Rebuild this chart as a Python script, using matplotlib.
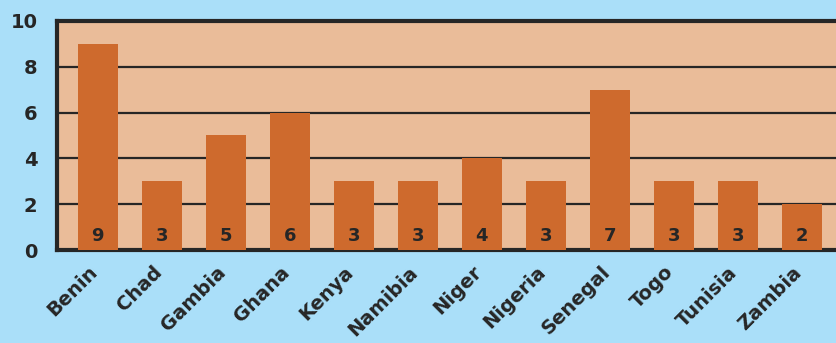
import matplotlib
matplotlib.use("Agg")
import matplotlib.pyplot as plt
from matplotlib.transforms import ScaledTranslation

countries = ["Benin", "Chad", "Gambia", "Ghana", "Kenya", "Namibia", "Niger",
             "Nigeria", "Senegal", "Togo", "Tunisia", "Zambia"]
counts = [9, 3, 5, 6, 3, 3, 4, 3, 7, 3, 3, 2]
y_ticks = [0, 2, 4, 6, 8, 10]

BG = "#aadff9"
PLOT_BG = "#eabc99"
BAR = "#ce6a2d"
DARK = "#262626"

plt.rcParams["font.family"] = ["DejaVu Sans"]

fig = plt.figure(figsize=(8.37, 3.43), dpi=100, facecolor=BG)
ax = fig.add_axes([0.068, 0.271, 0.932, 0.668])
ax.set_facecolor(PLOT_BG)

x = list(range(len(countries)))
ax.bar(x, counts, width=0.625, color=BAR, zorder=3)

for xi, v in zip(x, counts):
    ax.text(xi, 0.62, str(v), ha="center", va="center", fontsize=13,
            fontweight="bold", color=DARK, zorder=4)

ax.set_xlim(-0.64, 11.55)
ax.set_ylim(0, 10)
ax.set_yticks(y_ticks)
ax.set_yticklabels([str(t) for t in y_ticks], fontsize=14, fontweight="bold", color=DARK)
ax.set_xticks(x)
ax.set_xticklabels(countries, rotation=45, ha="right", rotation_mode="anchor",
                   fontsize=14, fontweight="bold", color=DARK)
ax.tick_params(axis="y", length=0, pad=14)
ax.tick_params(axis="x", length=0, pad=9)

# nudge the slanted country names a little to the left
shift = ScaledTranslation(-7 / 72, 0, fig.dpi_scale_trans)
for lbl in ax.get_xticklabels():
    lbl.set_transform(lbl.get_transform() + shift)

ax.grid(axis="y", color=DARK, linewidth=1.6, zorder=1)
ax.set_axisbelow(True)
for side in ["left", "bottom", "top"]:
    ax.spines[side].set_color(DARK)
    ax.spines[side].set_linewidth(3)
ax.spines["right"].set_visible(False)

fig.savefig("out.png", dpi=100, facecolor=BG)
